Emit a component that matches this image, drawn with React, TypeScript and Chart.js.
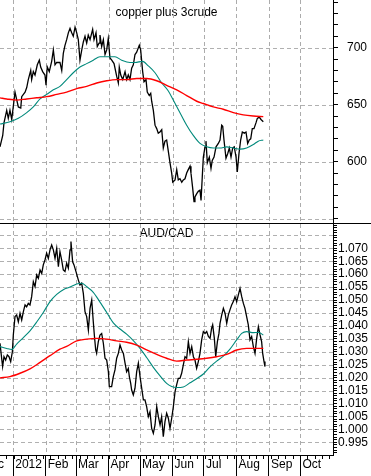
import React, { useEffect, useRef } from 'react';
import { Chart, registerables } from 'chart.js';

Chart.register(...registerables);

const FONT = "'Liberation Sans', Arial, Helvetica, sans-serif";
const GRID = '#b0b0b0';
const VGRID = '#acacac';
const DASH_ON = 4;
const DASH_OFF = 3;

// x axis: days from 1 Jan 2012
const xMin = -12.6;
const xMax = 305.1;
const monthDays = [-31, 0, 31, 60, 91, 121, 152, 182, 213, 244, 274];
const monthLabels = ['Dec', '2012', 'Feb', 'Mar', 'Apr', 'May', 'Jun', 'Jul', 'Aug', 'Sep', 'Oct'];

// ---- copper plus 3crude ----
const copperMin = 546.2;
const copperMax = 741.8;
const copperDays = [
  -12.6, -10.0, -8.8, -6.2, -4.7, -3.1, -1.4, 1.7, 4.9, 7.2,
  8.1, 11.3, 12.9, 14.4, 16.7, 17.6, 19.2, 20.8, 23.0, 24.9,
  26.2, 28.1, 30.3, 31.3, 32.5, 34.4, 36.7, 38.3, 39.9, 41.5,
  44.6, 46.3, 47.8, 49.4, 51.0, 52.6, 54.2, 55.8, 57.3, 59.0,
  60.6, 62.1, 63.7, 65.4, 66.9, 68.5, 70.1, 71.6, 73.3, 75.8,
  77.1, 79.0, 80.2, 81.9, 82.8, 84.4, 86.0, 87.6, 89.2, 90.7,
  92.3, 94.0, 96.2, 98.7, 100.3, 101.2, 102.6, 104.5, 106.7, 108.3,
  109.8, 111.4, 113.0, 114.6, 116.2, 117.8, 120.3, 121.6, 123.5, 124.8,
  126.7, 127.9, 129.8, 131.2, 132.1, 133.7, 135.3, 136.9, 138.4, 140.0,
  141.7, 143.2, 144.8, 146.4, 148.0, 149.6, 151.2, 152.2, 154.4, 156.0,
  157.5, 159.1, 160.8, 162.3, 163.9, 165.5, 167.0, 168.7, 169.6, 171.2,
  172.5, 173.4, 175.1, 176.6, 178.2, 179.2, 180.4, 181.4, 183.0, 183.9,
  185.2, 187.1, 188.7, 189.9, 191.6, 193.5, 195.7, 197.3, 198.9, 199.9,
  201.1, 203.0, 204.6, 206.2, 207.8, 209.4, 210.9, 212.6, 213.8, 215.4,
  217.0, 218.6, 220.5, 222.1, 223.7, 225.2, 226.6, 228.1, 229.7, 231.6,
  232.9, 234.8, 236.4, 238.6,
];
const copperValues = [
  613, 623, 634, 645, 638, 645, 637, 661, 648, 647,
  657, 661, 665, 672, 680, 672, 679, 676, 685, 689,
  683, 679, 676, 667, 683, 679, 688, 698, 685, 687,
  687, 680, 695, 702, 707, 713, 717, 713, 710, 718,
  713, 707, 689, 698, 705, 710, 704, 711, 707, 716,
  707, 713, 701, 704, 711, 701, 707, 694, 698, 708,
  691, 689, 686, 675, 669, 683, 676, 672, 679, 672,
  676, 672, 682, 685, 694, 696, 702, 698, 679, 670,
  672, 661, 658, 660, 653, 645, 632, 629, 625, 626,
  628, 612, 618, 619, 609, 599, 590, 582, 584, 593,
  584, 585, 582, 584, 585, 590, 593, 596, 590, 577,
  565, 569, 572, 574, 575, 566, 587, 604, 613, 618,
  599, 604, 594, 601, 604, 613, 616, 619, 632, 631,
  619, 603, 607, 612, 604, 612, 613, 604, 591, 607,
  619, 626, 625, 626, 616, 619, 620, 629, 629, 634,
  638, 639, 637, 635,
];
const copperFastDays = [
  -12.6, -3.1, 4.9, 12.9, 19.2, 25.6, 32.0, 38.3, 44.6, 51.0,
  57.3, 63.7, 70.1, 76.4, 82.8, 89.2, 97.1, 103.5, 111.4, 116.2,
  123.5, 128.9, 135.3, 141.7, 148.0, 152.7, 159.1, 165.5, 171.8, 178.2,
  184.6, 190.9, 197.3, 203.7, 209.9, 216.4, 222.7, 229.1, 233.8, 238.6,
];
const copperFast = [
  633, 635, 638, 643, 648, 655, 659, 663, 666, 672,
  678, 683, 686, 689, 692, 692, 692, 689, 687, 687,
  688, 684, 678, 669, 662, 654, 643, 632, 623, 616,
  613, 612, 612, 613, 612, 611, 612, 615, 618, 619,
];
const copperSlowDays = [
  -12.6, -6.2, 3.3, 12.9, 22.4, 32.0, 41.5, 51.0, 60.6, 70.1,
  79.7, 89.2, 98.7, 108.3, 117.8, 127.4, 136.9, 146.4, 156.0, 165.5,
  175.1, 181.4, 190.9, 200.4, 210.0, 219.5, 229.1, 238.6,
];
const copperSlow = [
  656, 655, 654, 655, 656, 657, 659, 661, 664, 666,
  669, 671, 672, 672, 673, 673, 671, 667, 663, 658,
  653, 651, 648, 646, 643, 641, 640, 639.5,
];

// ---- AUD/CAD ----
const audMin = 0.9901;
const audMax = 1.0794;
const audDays = [
  -12.6, -11.0, -10.1, -8.8, -7.2, -5.6, -4.0, -2.4, -0.8, 0.1,
  1.7, 3.3, 4.9, 6.5, 8.1, 9.7, 11.3, 12.8, 14.4, 16.0,
  17.6, 19.2, 20.8, 22.4, 24.0, 25.6, 27.2, 28.7, 30.3, 31.9,
  33.5, 35.1, 36.7, 38.3, 39.9, 41.5, 43.1, 44.6, 46.2, 47.8,
  49.4, 51.0, 52.6, 54.2, 55.1, 56.7, 58.0, 59.9, 62.1, 63.7,
  65.3, 66.9, 68.5, 70.1, 71.7, 73.3, 74.9, 76.4, 77.4, 78.7,
  79.6, 81.2, 82.8, 84.4, 86.0, 87.6, 89.2, 90.8, 91.7, 93.9,
  95.5, 97.1, 98.7, 100.3, 101.9, 103.5, 105.1, 106.7, 108.2, 109.8,
  110.8, 112.1, 113.0, 114.6, 116.2, 117.8, 119.4, 121.0, 122.6, 124.2,
  125.7, 127.3, 128.9, 130.5, 132.1, 133.7, 135.3, 136.9, 138.5, 140.1,
  141.6, 143.2, 144.8, 146.4, 148.0, 149.6, 151.2, 152.8, 154.4, 155.9,
  157.5, 159.1, 160.7, 162.3, 163.9, 165.5, 167.1, 168.7, 170.3, 171.9,
  173.4, 175.0, 176.6, 178.2, 179.8, 181.4, 183.0, 184.6, 186.2, 187.8,
  189.3, 190.3, 191.9, 193.2, 194.8, 196.3, 197.3, 198.9, 200.5, 202.1,
  203.7, 205.2, 206.8, 208.4, 210.0, 211.6, 213.2, 214.8, 216.4, 218.0,
  219.6, 221.1, 222.7, 224.3, 225.9, 227.5, 229.1, 230.7, 232.3, 233.9,
  235.5, 237.0, 238.0, 239.3, 240.2,
];
const audValues = [
  1.0333, 1.0274, 1.0243, 1.0281, 1.0268, 1.0288, 1.0281, 1.0262, 1.0300, 1.0365,
  1.0436, 1.0442, 1.0416, 1.0449, 1.0423, 1.0455, 1.0481, 1.0474, 1.0487, 1.0481,
  1.0513, 1.0571, 1.0552, 1.0597, 1.0584, 1.0616, 1.0603, 1.0636, 1.0655, 1.0681,
  1.0661, 1.0694, 1.0713, 1.0694, 1.0661, 1.0700, 1.0629, 1.0687, 1.0655, 1.0616,
  1.0610, 1.0642, 1.0623, 1.0694, 1.0726, 1.0648, 1.0636, 1.0610, 1.0578, 1.0558,
  1.0565, 1.0526, 1.0455, 1.0436, 1.0384, 1.0468, 1.0500, 1.0416, 1.0365, 1.0307,
  1.0294, 1.0339, 1.0365, 1.0371, 1.0333, 1.0275, 1.0268, 1.0223, 1.0165, 1.0165,
  1.0204, 1.0230, 1.0275, 1.0294, 1.0326, 1.0307, 1.0294, 1.0256, 1.0223, 1.0236,
  1.0204, 1.0178, 1.0152, 1.0133, 1.0159, 1.0223, 1.0256, 1.0204, 1.0159, 1.0114,
  1.0114, 1.0088, 1.0049, 1.0068, 1.0004, 0.9985, 1.0017, 1.0088, 1.0049, 1.0017,
  1.0049, 0.9972, 1.0030, 1.0062, 1.0043, 1.0004, 1.0043, 1.0088, 1.0146, 1.0172,
  1.0197, 1.0197, 1.0217, 1.0249, 1.0281, 1.0275, 1.0339, 1.0294, 1.0320, 1.0281,
  1.0268, 1.0236, 1.0262, 1.0294, 1.0346, 1.0378, 1.0371, 1.0378, 1.0359, 1.0352,
  1.0391, 1.0404, 1.0352, 1.0281, 1.0339, 1.0371, 1.0410, 1.0442, 1.0468, 1.0449,
  1.0410, 1.0442, 1.0462, 1.0481, 1.0494, 1.0513, 1.0494, 1.0520, 1.0545, 1.0513,
  1.0487, 1.0468, 1.0436, 1.0404, 1.0346, 1.0359, 1.0320, 1.0294, 1.0352, 1.0397,
  1.0365, 1.0339, 1.0294, 1.0262, 1.0243,
];
const audFastDays = [
  -12.6, -6.2, -1.5, 3.3, 9.7, 16.0, 22.4, 28.7, 35.1, 41.5,
  47.8, 54.2, 60.6, 65.3, 70.1, 76.4, 82.8, 89.2, 95.5, 101.9,
  108.2, 114.6, 121.0, 127.3, 133.7, 140.1, 146.4, 151.2, 155.9, 162.3,
  168.7, 175.0, 181.4, 187.8, 194.1, 200.5, 206.8, 213.2, 218.0, 222.7,
  229.1, 233.9, 238.6,
];
const audFast = [
  1.0320, 1.0313, 1.0309, 1.0330, 1.0355, 1.0381, 1.0415, 1.0452, 1.0494, 1.0522,
  1.0540, 1.0550, 1.0562, 1.0565, 1.0552, 1.0530, 1.0492, 1.0452, 1.0412, 1.0388,
  1.0368, 1.0343, 1.0313, 1.0278, 1.0240, 1.0207, 1.0178, 1.0166, 1.0162, 1.0164,
  1.0180, 1.0196, 1.0214, 1.0242, 1.0264, 1.0283, 1.0310, 1.0346, 1.0371, 1.0378,
  1.0374, 1.0375, 1.0365,
];
const audSlowDays = [
  -12.6, -3.1, 6.5, 16.0, 25.6, 35.1, 44.6, 51.0, 60.6, 70.1,
  79.6, 89.2, 98.7, 108.2, 117.8, 127.3, 136.9, 146.4, 155.9, 165.5,
  175.0, 184.6, 194.1, 203.7, 213.2, 222.7, 232.3, 238.6,
];
const audSlow = [
  1.0199, 1.0204, 1.0217, 1.0234, 1.0259, 1.0285, 1.0310, 1.0321, 1.0342, 1.0349,
  1.0352, 1.0349, 1.0342, 1.0337, 1.0326, 1.0307, 1.0290, 1.0275, 1.0264, 1.0268,
  1.0271, 1.0275, 1.0281, 1.0290, 1.0307, 1.0313, 1.0313, 1.0313,
];

const copperGridValues = [550, 600, 650, 700];
const audGridValues = [
  0.995, 1.0, 1.005, 1.01, 1.015, 1.02, 1.025, 1.03, 1.035, 1.04,
  1.045, 1.05, 1.055, 1.06, 1.065, 1.07, 1.075,
];

const pts = (xs: number[], ys: number[]) => xs.map((x, i) => ({ x, y: ys[i] }));

function datasets(days: number[], vals: number[], fDays: number[], fVals: number[], sDays: number[], sVals: number[]) {
  return [
    { data: pts(sDays, sVals), borderColor: '#ff0000', borderWidth: 1.4, pointRadius: 0, cubicInterpolationMode: 'monotone' as const, fill: false },
    { data: pts(fDays, fVals), borderColor: '#00897b', borderWidth: 1.1, pointRadius: 0, cubicInterpolationMode: 'monotone' as const, fill: false },
    { data: pts(days, vals), borderColor: '#000000', borderWidth: 1.3, pointRadius: 0, tension: 0, fill: false },
  ];
}

const tickFont = { family: FONT, size: 12 };

function zeroPad(s: any) {
  s.paddingTop = 0;
  s.paddingBottom = 0;
  s.paddingLeft = 0;
  s.paddingRight = 0;
}

function monthTicks(scale: any) {
  scale.ticks = monthDays.map((v) => ({ value: v }));
}

function weekTicks(scale: any) {
  const t: { value: number }[] = [];
  for (let d = -13; d <= 305; d += 7) t.push({ value: d });
  scale.ticks = t;
}

// dashed grid, positioned by the chart's own scales
function gridPlugin(majorY: number[], yLo: number, yHi: number, extendBottom: boolean) {
  return {
    id: 'dashedGrid',
    beforeDatasetsDraw(chart: any) {
      const ctx: CanvasRenderingContext2D = chart.ctx;
      const xs = chart.scales.x;
      const ys = chart.scales.y;
      const left = Number(xs.getPixelForValue(xMin));
      const right = Number(xs.getPixelForValue(xMax));
      const top = Number(ys.getPixelForValue(yHi));
      const bottom = Number(ys.getPixelForValue(yLo));
      ctx.save();
      ctx.setLineDash([]);
      ctx.globalAlpha = 1;
      ctx.globalCompositeOperation = 'source-over';
      ctx.fillStyle = VGRID;
      for (let i = 0; i < monthDays.length; i++) {
        const px = Math.round(Number(xs.getPixelForValue(monthDays[i])));
        if (!isFinite(px) || px < 0) continue;
        for (let y = 0; y < 240; y += DASH_ON + DASH_OFF) {
          if (y >= top - 1 && y < bottom) ctx.fillRect(px, y, 1, Math.min(DASH_ON, bottom - y));
        }
      }
      ctx.fillStyle = GRID;
      for (let i = 0; i < majorY.length; i++) {
        const py = Math.round(Number(ys.getPixelForValue(majorY[i])));
        if (!(py >= top && py <= bottom - 1)) continue;
        for (let x = Math.round(left); x < right; x += DASH_ON + DASH_OFF) {
          ctx.fillRect(x, py, Math.min(DASH_ON, right - x), 1);
        }
      }
      ctx.restore();
    },
    afterDraw(chart: any) {
      if (!extendBottom) return;
      const ctx: CanvasRenderingContext2D = chart.ctx;
      const xs = chart.scales.x;
      const ys = chart.scales.y;
      const right = Number(xs.getPixelForValue(xMax));
      const bottom = Math.round(Number(ys.getPixelForValue(yLo)));
      ctx.save();
      ctx.fillStyle = '#000';
      ctx.fillRect(right, bottom, chart.width - right, 1);
      ctx.restore();
    },
  };
}

function baseOptions(title: string, titleTop: number) {
  return {
    animation: false as const,
    responsive: false,
    events: [] as any[],
    layout: { padding: 0, autoPadding: false },
    plugins: {
      legend: { display: false },
      tooltip: { enabled: false },
      title: {
        display: true,
        fullSize: false,
        text: title,
        color: '#000',
        font: { family: FONT, size: 12, weight: 'normal' as const, lineHeight: 1.2 },
        padding: { top: titleTop, bottom: -(14.4 + titleTop) },
      },
    },
  };
}

function topConfig(): any {
  return {
    type: 'line',
    data: { datasets: datasets(copperDays, copperValues, copperFastDays, copperFast, copperSlowDays, copperSlow) },
    plugins: [gridPlugin(copperGridValues, copperMin, copperMax, true)],
    options: {
      ...baseOptions('copper plus 3crude', 5),
      scales: {
        x: {
          type: 'linear', position: 'bottom', min: xMin, max: xMax,
          afterBuildTicks: monthTicks,
          afterFit: (s: any) => { s.height = 1; zeroPad(s); },
          ticks: { display: false, autoSkip: false },
          grid: { display: true, drawOnChartArea: false, drawTicks: false },
          border: { display: true, color: '#000', width: 1 },
        },
        y: {
          type: 'linear', position: 'right', min: copperMin, max: copperMax,
          afterBuildTicks: (s: any) => {
            const t: { value: number }[] = [];
            for (let v = 550; v <= 740; v += 10) t.push({ value: v });
            s.ticks = t;
          },
          afterFit: (s: any) => { s.width = 38; zeroPad(s); },
          ticks: {
            autoSkip: false, padding: 9, color: '#000', font: tickFont,
            callback: (v: number) => (v % 50 === 0 && v >= 600 ? String(v) : ''),
          },
          grid: {
            display: true, drawOnChartArea: false,
            color: '#000', lineWidth: 1, tickLength: 5, tickColor: '#000', tickWidth: 1, tickBorderDash: [],
          },
          border: { display: true, color: '#000', width: 1 },
        },
      },
    },
  };
}

function bottomConfig(): any {
  return {
    type: 'line',
    data: { datasets: datasets(audDays, audValues, audFastDays, audFast, audSlowDays, audSlow) },
    plugins: [gridPlugin(audGridValues, audMin, audMax, false)],
    options: {
      ...baseOptions('AUD/CAD', 2),
      scales: {
        xw: {
          type: 'linear', axis: 'x', position: 'bottom', weight: 0, min: xMin, max: xMax,
          afterBuildTicks: weekTicks,
          afterFit: (s: any) => { s.height = 0; zeroPad(s); },
          ticks: { display: false, autoSkip: false },
          grid: { drawOnChartArea: false, tickLength: 4, tickColor: '#000', tickWidth: 1, tickBorderDash: [], color: '#000' },
          border: { display: false },
        },
        x: {
          type: 'linear', axis: 'x', position: 'bottom', weight: 1, min: xMin, max: xMax,
          afterBuildTicks: monthTicks,
          afterFit: (s: any) => { s.height = 21; zeroPad(s); },
          ticks: {
            autoSkip: false, maxRotation: 0, minRotation: 0, align: 'start', labelOffset: 2, padding: -19,
            color: '#000', font: tickFont,
            callback: (v: number) => {
              const i = monthDays.indexOf(v);
              return i >= 0 ? monthLabels[i] : '';
            },
          },
          grid: { display: true, drawOnChartArea: false, color: '#000', lineWidth: 1, tickLength: 21, tickColor: '#000', tickWidth: 1, tickBorderDash: [] },
          border: { display: true, color: '#000', width: 1 },
        },
        y: {
          type: 'linear', position: 'right', min: audMin, max: audMax,
          afterBuildTicks: (s: any) => {
            const t: { value: number }[] = [];
            for (let k = 991; k <= 1079; k++) t.push({ value: k / 1000 });
            s.ticks = t;
          },
          afterFit: (s: any) => { s.width = 38; zeroPad(s); },
          ticks: {
            autoSkip: false, padding: 1, color: '#000', font: tickFont,
            callback: (v: number) => {
              const k = Math.round(v * 1000);
              return k % 5 === 0 && k >= 995 && k <= 1070 ? (k / 1000).toFixed(3) : '';
            },
          },
          grid: {
            display: true, drawOnChartArea: false,
            color: '#000', lineWidth: 1, tickLength: 4, tickColor: '#000', tickWidth: 1, tickBorderDash: [],
          },
          border: { display: true, color: '#000', width: 1 },
        },
      },
    },
  };
}

export default function App() {
  const topRef = useRef<HTMLCanvasElement>(null);
  const botRef = useRef<HTMLCanvasElement>(null);

  useEffect(() => {
    document.body.style.margin = '0';
    const c1 = new Chart(topRef.current as HTMLCanvasElement, topConfig());
    const c2 = new Chart(botRef.current as HTMLCanvasElement, bottomConfig());
    return () => {
      c1.destroy();
      c2.destroy();
    };
  }, []);

  return (
    <div style={{ width: 371, height: 476, background: '#ffffff' }}>
      <canvas ref={topRef} width={371} height={224} style={{ display: 'block', width: 371, height: 224 }} />
      <canvas ref={botRef} width={371} height={252} style={{ display: 'block', width: 371, height: 252 }} />
    </div>
  );
}
